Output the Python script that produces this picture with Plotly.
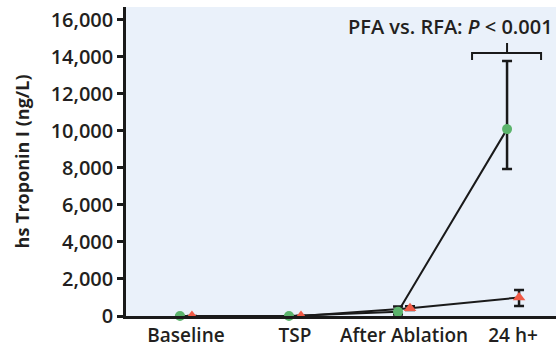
import plotly.graph_objects as go

categories = ["Baseline", "TSP", "After Ablation", "24 h+"]
pfa_values = [0, 0, 230, 10100]
pfa_err_plus = [0, 0, 280, 3680]
pfa_err_minus = [0, 0, 150, 2150]
rfa_values = [0, 0, 420, 1000]
rfa_err_plus = [0, 0, 110, 400]
rfa_err_minus = [0, 0, 100, 460]
y_ticks = [0, 2000, 4000, 6000, 8000, 10000, 12000, 14000, 16000]

pos = list(range(len(categories)))
off = 0.055
pfa_x = [p - off for p in pos]
rfa_x = [p + off for p in pos]

FONT = "Open Sans"
fig = go.Figure()

fig.add_trace(go.Scatter(
    x=pfa_x, y=pfa_values, mode="lines", line=dict(color="#1a1a1a", width=2),
    showlegend=False, hoverinfo="skip", cliponaxis=False))
fig.add_trace(go.Scatter(
    x=rfa_x, y=rfa_values, mode="lines", line=dict(color="#1a1a1a", width=2),
    showlegend=False, hoverinfo="skip", cliponaxis=False))

fig.add_trace(go.Scatter(
    x=pfa_x, y=pfa_values, mode="markers", name="PFA",
    marker=dict(symbol="circle", size=10, color="#5cb46c"),
    error_y=dict(type="data", symmetric=False, array=pfa_err_plus, arrayminus=pfa_err_minus,
                 color="#1a1a1a", thickness=2.5, width=5),
    showlegend=False, cliponaxis=False))
fig.add_trace(go.Scatter(
    x=rfa_x, y=rfa_values, mode="markers", name="RFA",
    marker=dict(symbol="triangle-up", size=11, color="#f05a46"),
    error_y=dict(type="data", symmetric=False, array=rfa_err_plus, arrayminus=rfa_err_minus,
                 color="#1a1a1a", thickness=2.5, width=5),
    showlegend=False, cliponaxis=False))

# bracket over 24 h+
bx0, bx1, bxc = 2.624, 3.257, 2.945
yb, ye, yt = 14216, 13840, 14757
fig.add_shape(type="path", xref="x", yref="y",
              path=f"M {bx0},{ye} L {bx0},{yb} L {bx1},{yb} L {bx1},{ye} M {bxc},{yb} L {bxc},{yt}",
              line=dict(color="#1a1a1a", width=2))

fig.add_annotation(x=2.43, y=15620, xref="x", yref="y", xanchor="center",
                   text="PFA vs. RFA: <i>P</i> < 0.001", showarrow=False,
                   font=dict(family=FONT, size=20, color="#231f20", weight=600))

fig.add_annotation(x=-0.242, y=0.5, xref="paper", yref="paper", xanchor="center",
                   text="hs Troponin I (ng/L)", textangle=-90, showarrow=False,
                   font=dict(family=FONT, size=18, color="#231f20", weight=700))

fig.update_layout(
    width=556, height=350,
    margin=dict(l=126, r=0, t=7, b=34),
    paper_bgcolor="white", plot_bgcolor="#eaf1fa",
    font=dict(family=FONT, size=19, color="#231f20", weight=600),
    showlegend=False,
)
fig.update_xaxes(range=[-0.55, 3.394], tickvals=pos, ticktext=categories,
                 showgrid=False, zeroline=False, showline=True, linecolor="#1a1a1a",
                 linewidth=2.5, ticks="", tickfont=dict(size=19, weight=600))
fig.update_yaxes(range=[0, 16700], tickvals=y_ticks, tickformat=",d",
                 showgrid=False, zeroline=False, showline=True, linecolor="#1a1a1a",
                 linewidth=2.5, ticks="outside", ticklen=6, tickwidth=2.5, tickcolor="#1a1a1a",
                 tickfont=dict(size=20, weight=600))

fig.write_html("out.html", config={"displayModeBar": False},
               post_script="document.body.style.margin='0';document.body.style.overflow='hidden';")
